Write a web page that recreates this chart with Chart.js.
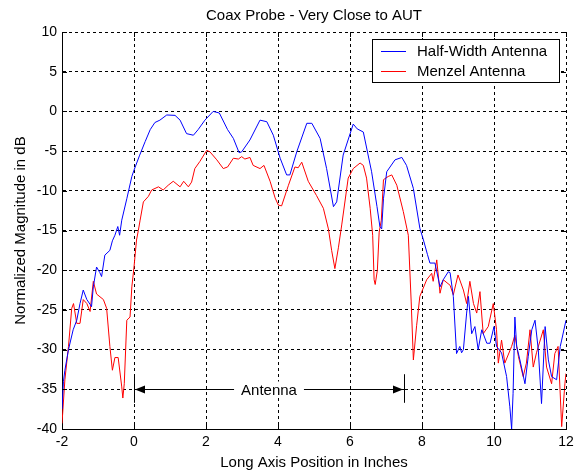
<!DOCTYPE html>
<html>
<head>
<meta charset="utf-8">
<script src="https://cdn.jsdelivr.net/npm/chart.js@4.4.1/dist/chart.umd.min.js"></script>
<style>
  html, body { margin: 0; padding: 0; background: #fff; }
  #wrap { width: 574px; height: 472px; }
</style>
</head>
<body>
<div id="wrap"><canvas id="probeChart" width="574" height="472"></canvas></div>
<script>
// Half-Width Antenna: position (inches) and magnitude (dB)
const posHalf = [-2.0, -1.96, -1.92, -1.82, -1.69, -1.59, -1.5, -1.41, -1.31, -1.22, -1.18, -1.13, -1.04, -0.95, -0.9, -0.81, -0.67, -0.6, -0.53, -0.45, -0.4, -0.34, -0.2, -0.06, 0, 0.15, 0.31, 0.45, 0.58, 0.72, 0.91, 1.14, 1.28, 1.46, 1.65, 1.78, 1.97, 2.2, 2.37, 2.6, 2.76, 2.92, 2.99, 3.22, 3.5, 3.69, 3.87, 4.06, 4.24, 4.33, 4.52, 4.8, 4.94, 5.17, 5.35, 5.54, 5.63, 5.81, 6.09, 6.2, 6.37, 6.6, 6.75, 6.83, 6.88, 6.93, 7.02, 7.25, 7.44, 7.57, 7.76, 7.94, 8.04, 8.15, 8.22, 8.36, 8.5, 8.59, 8.73, 8.78, 8.87, 8.96, 9.05, 9.1, 9.15, 9.24, 9.29, 9.38, 9.47, 9.56, 9.66, 9.8, 9.89, 10.0, 10.07, 10.21, 10.35, 10.44, 10.49, 10.53, 10.58, 10.63, 10.72, 10.86, 10.95, 11.05, 11.14, 11.23, 11.32, 11.42, 11.51, 11.6, 11.74, 11.84, 11.88, 12.0];
const magHalf = [-37.5, -34, -32.6, -30, -27.5, -26.3, -24.2, -22.5, -23.7, -24.3, -24.6, -22.1, -19.6, -20.3, -20.8, -18.1, -17.5, -16.3, -15.6, -14.5, -15.6, -13.7, -11, -8.2, -7.4, -5.6, -3.8, -2.3, -1.4, -1.1, -0.45, -0.5, -1.1, -2.8, -3.0, -2.3, -1.1, 0, -0.2, -2.3, -3.4, -5.2, -5.1, -3.6, -1.1, -1.3, -3.0, -5.9, -8.0, -8.0, -5.1, -1.5, -1.5, -3.4, -7.2, -12.0, -11.4, -5.5, -1.6, -2.2, -2.6, -7.6, -12, -14.5, -14.8, -11, -7.6, -6.1, -5.8, -6.8, -9.7, -14.7, -16.2, -18, -19.1, -19.1, -22.1, -21.2, -20.2, -20.3, -23.3, -30.5, -29.6, -30.4, -30, -25.4, -23.3, -28, -27.1, -30, -27.5, -29.2, -29.2, -27.1, -29.6, -30.4, -33.4, -37.2, -40, -35.5, -25.9, -29.6, -31.3, -34.3, -30.9, -27.5, -26.3, -30, -36.8, -27.1, -31.3, -33.4, -33.8, -29.6, -28.8, -26.3];

// Menzel Antenna: position (inches) and magnitude (dB)
const posMenzel = [-2.0, -1.92, -1.82, -1.73, -1.68, -1.59, -1.5, -1.41, -1.31, -1.22, -1.13, -1.04, -0.85, -0.76, -0.67, -0.6, -0.53, -0.44, -0.34, -0.31, -0.27, -0.2, -0.11, -0.06, 0, 0.07, 0.12, 0.17, 0.26, 0.4, 0.49, 0.68, 0.81, 0.95, 1.09, 1.28, 1.38, 1.51, 1.6, 1.69, 1.83, 2.02, 2.11, 2.3, 2.48, 2.6, 2.76, 2.9, 2.99, 3.08, 3.22, 3.31, 3.5, 3.61, 3.78, 3.92, 4.01, 4.1, 4.29, 4.47, 4.56, 4.66, 4.84, 5.07, 5.26, 5.4, 5.49, 5.58, 5.68, 5.77, 5.95, 6.09, 6.28, 6.37, 6.46, 6.56, 6.63, 6.67, 6.7, 6.76, 6.81, 6.87, 6.93, 7.06, 7.16, 7.3, 7.48, 7.62, 7.7, 7.76, 7.85, 7.94, 8.13, 8.27, 8.31, 8.41, 8.5, 8.59, 8.78, 8.87, 9.0, 9.15, 9.24, 9.33, 9.43, 9.52, 9.61, 9.7, 9.84, 9.98, 10.07, 10.12, 10.21, 10.3, 10.49, 10.58, 10.68, 10.81, 10.9, 11.0, 11.09, 11.18, 11.37, 11.46, 11.6, 11.69, 11.78, 11.88, 11.97, 12.0];
const magMenzel = [-39.3, -33.8, -29.6, -24.8, -24.2, -26.7, -26.7, -23.7, -24.2, -25.2, -21.4, -23, -23.7, -24.8, -29.6, -32.6, -31, -31, -34.7, -36.1, -34.3, -26.3, -25.9, -22.1, -19.6, -16.2, -15.0, -13.7, -11.4, -10.7, -9.9, -9.5, -9.9, -9.3, -8.8, -9.5, -8.8, -9.5, -8.9, -7.2, -6.3, -4.9, -5.1, -6.1, -7.2, -7.0, -5.9, -6.0, -5.7, -6.0, -5.8, -6.8, -7.2, -6.8, -8.8, -10.9, -11.8, -11.9, -9.3, -7.0, -7.1, -6.4, -8.8, -10.6, -12.2, -14.8, -17.5, -19.8, -17.1, -14.3, -8.4, -7.2, -6.5, -6.8, -8.4, -12.2, -15.6, -21.2, -21.8, -20, -15.2, -13.7, -8.6, -8.2, -8.0, -9.3, -12.6, -15.6, -24, -31.3, -27, -23.3, -21.2, -20.4, -21.4, -18.7, -22.9, -21.2, -21.9, -23.1, -20.6, -22.5, -24.2, -21.4, -24.2, -25.4, -22.7, -28, -27.1, -24.2, -27.5, -31.7, -28.8, -31.7, -29.6, -28.2, -30.9, -33.4, -31.7, -27.5, -32.2, -30.4, -27.5, -32.2, -34.3, -30.5, -29.6, -39.7, -34.3, -33];

const seriesNames = ["Half-Width Antenna", "Menzel Antenna"];
const seriesColors = ["#0000ff", "#ff0000"];
const xTicks = [-2, 0, 2, 4, 6, 8, 10, 12];
const yTicks = [10, 5, 0, -5, -10, -15, -20, -25, -30, -35, -40];
const antennaSpan = [0, 7.5];
const antennaLevel = -35;

const FONT = "'Liberation Sans', Arial, sans-serif";

function toPoints(xs, ys) {
  return xs.map((x, i) => ({ x: x, y: ys[i] }));
}

// title, legend box, antenna marker and inward ticks (MATLAB look)
const decorations = {
  id: "decorations",
  afterDatasetsDraw(chart) {
    const { ctx, chartArea: a, scales: { x, y } } = chart;
    ctx.save();

    // inward tick marks on all four sides
    ctx.strokeStyle = "#000";
    ctx.lineWidth = 1;
    ctx.beginPath();
    xTicks.forEach(v => {
      const px = Math.round(x.getPixelForValue(v)) + 0.5;
      ctx.moveTo(px, a.bottom); ctx.lineTo(px, a.bottom - 5);
      ctx.moveTo(px, a.top); ctx.lineTo(px, a.top + 5);
    });
    yTicks.forEach(v => {
      const py = Math.round(y.getPixelForValue(v)) + 0.5;
      ctx.moveTo(a.left, py); ctx.lineTo(a.left + 5, py);
      ctx.moveTo(a.right, py); ctx.lineTo(a.right - 5, py);
    });
    ctx.stroke();

    // antenna span arrow
    const x0 = x.getPixelForValue(antennaSpan[0]);
    const x1 = x.getPixelForValue(antennaSpan[1]);
    const ya = Math.round(y.getPixelForValue(antennaLevel)) + 0.5;
    const yTop = y.getPixelForValue(antennaLevel + 1.9);
    const yBot = y.getPixelForValue(antennaLevel - 1.7);
    ctx.beginPath();
    ctx.moveTo(Math.round(x0) + 0.5, yTop); ctx.lineTo(Math.round(x0) + 0.5, yBot);
    ctx.moveTo(Math.round(x1) + 0.5, yTop); ctx.lineTo(Math.round(x1) + 0.5, yBot);
    ctx.moveTo(x0, ya); ctx.lineTo(x1, ya);
    ctx.stroke();
    ctx.fillStyle = "#000";
    ctx.beginPath();
    ctx.moveTo(x0 + 1, ya); ctx.lineTo(x0 + 11, ya - 4); ctx.lineTo(x0 + 11, ya + 4); ctx.closePath();
    ctx.moveTo(x1 - 1, ya); ctx.lineTo(x1 - 11, ya - 4); ctx.lineTo(x1 - 11, ya + 4); ctx.closePath();
    ctx.fill();
    ctx.font = "15px " + FONT;
    const label = "Antenna";
    const xm = x.getPixelForValue((antennaSpan[0] + antennaSpan[1]) / 2);
    const tw = ctx.measureText(label).width;
    ctx.fillStyle = "#fff";
    ctx.fillRect(xm - tw / 2 - 7, ya - 8, tw + 14, 16);
    ctx.fillStyle = "#000";
    ctx.textAlign = "center";
    ctx.textBaseline = "middle";
    ctx.fillText(label, xm, ya + 1);

    // legend box
    const lx = 372, ly = 39, lw = 187, lh = 43;
    ctx.fillStyle = "#fff";
    ctx.fillRect(lx, ly, lw, lh);
    ctx.strokeStyle = "#000";
    ctx.strokeRect(lx + 0.5, ly + 0.5, lw, lh);
    seriesNames.forEach((name, i) => {
      const yy = ly + 12 + i * 20;
      ctx.strokeStyle = seriesColors[i];
      ctx.beginPath();
      ctx.moveTo(lx + 9, yy + 0.5); ctx.lineTo(lx + 34, yy + 0.5);
      ctx.stroke();
      ctx.fillStyle = "#000";
      ctx.textAlign = "left";
      ctx.textBaseline = "middle";
      ctx.fillText(name, lx + 45, yy + 1);
    });

    // title centred over the plot
    ctx.font = "15px " + FONT;
    ctx.textAlign = "center";
    ctx.textBaseline = "alphabetic";
    ctx.fillText("Coax Probe - Very Close to AUT", (a.left + a.right) / 2, 20);
    ctx.restore();
  }
};

const chart = new Chart(document.getElementById("probeChart").getContext("2d"), {
  type: "line",
  data: {
    datasets: [
      { label: seriesNames[0], data: toPoints(posHalf, magHalf), borderColor: seriesColors[0], borderWidth: 1, pointRadius: 0, tension: 0, fill: false },
      { label: seriesNames[1], data: toPoints(posMenzel, magMenzel), borderColor: seriesColors[1], borderWidth: 1, pointRadius: 0, tension: 0, fill: false }
    ]
  },
  options: {
    responsive: false,
    animation: false,
    layout: { padding: { top: 32, right: 0, left: 0, bottom: 0 } },
    plugins: { legend: { display: false }, tooltip: { enabled: false }, title: { display: false } },
    scales: {
      x: {
        type: "linear",
        min: -2, max: 12,
        afterBuildTicks: s => { s.ticks = xTicks.map(v => ({ value: v })); },
        afterFit: s => { s.height = 43; s.paddingLeft = 0; s.paddingRight = 8; },
        ticks: { color: "#000", padding: 5, font: { family: FONT, size: 14 } },
        grid: { color: "#000", lineWidth: 1, drawTicks: false },
        border: { display: true, color: "#000", width: 1, dash: [3, 3] },
        title: { display: true, text: "Long Axis Position in Inches", color: "#000", font: { family: FONT, size: 15 }, padding: { top: 0, bottom: 0 } }
      },
      y: {
        type: "linear",
        min: -40, max: 10,
        afterBuildTicks: s => { s.ticks = yTicks.map(v => ({ value: v })); },
        afterFit: s => { s.width = 62; s.paddingTop = 0; s.paddingBottom = 0; },
        ticks: { color: "#000", padding: 5, font: { family: FONT, size: 14 } },
        grid: { color: "#000", lineWidth: 1, drawTicks: false },
        border: { display: true, color: "#000", width: 1, dash: [3, 3] },
        title: { display: true, text: "Normalized Magnitude in dB", color: "#000", font: { family: FONT, size: 15 }, padding: { top: 12, bottom: 0 } }
      }
    }
  },
  plugins: [decorations]
});
</script>
</body>
</html>
